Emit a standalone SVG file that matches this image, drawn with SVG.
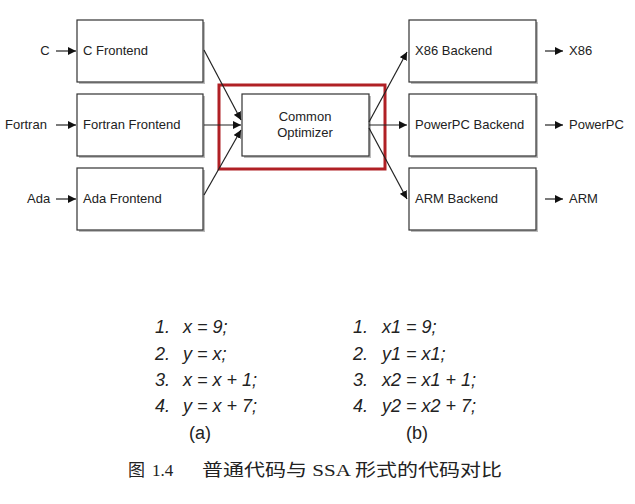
<svg xmlns="http://www.w3.org/2000/svg" width="635" height="504" viewBox="0 0 635 504">
<style>
.box{fill:#fff;stroke:#333;stroke-width:1.2}
.sh{fill:#bbb}
.t{font-family:"Liberation Sans",Arial,sans-serif;font-size:13px;fill:#222}
.c{font-family:"Liberation Sans",Arial,sans-serif;font-style:italic;font-size:18px;fill:#222}
.cap{font-family:"Liberation Serif","Noto Sans CJK SC",serif;font-size:17px;fill:#222}
.ln{stroke:#222;stroke-width:1.2;fill:none;marker-end:url(#a)}
</style>
<defs><marker id="a" viewBox="0 0 10 10" refX="10" refY="5" markerWidth="8" markerHeight="8" markerUnits="userSpaceOnUse" orient="auto"><path d="M0,0L10,5L0,10z" fill="#111"/></marker></defs>
<rect width="635" height="504" fill="#fff"/>
<g id="cfe"><rect class="sh" x="79" y="22" width="126" height="62"/><rect class="box" x="77" y="20" width="126" height="62"/><text class="t" x="83" y="55">C Frontend</text></g>
<g id="ffe"><rect class="sh" x="79" y="96" width="126" height="62"/><rect class="box" x="77" y="94" width="126" height="62"/><text class="t" x="83" y="129">Fortran Frontend</text></g>
<g id="afe"><rect class="sh" x="79" y="170" width="126" height="62"/><rect class="box" x="77" y="168" width="126" height="62"/><text class="t" x="83" y="203">Ada Frontend</text></g>
<g id="opt"><rect class="sh" x="244" y="96" width="127" height="62"/><rect class="box" x="242" y="94" width="127" height="62"/><text class="t" x="305" y="121" text-anchor="middle">Common</text><text class="t" x="305" y="137" text-anchor="middle">Optimizer</text></g>
<g id="hl"><rect x="219" y="85" width="166" height="84" fill="none" stroke="#b02025" stroke-width="3"/></g>
<g id="x86"><rect class="sh" x="411" y="22" width="127" height="62"/><rect class="box" x="409" y="20" width="127" height="62"/><text class="t" x="415" y="55">X86 Backend</text></g>
<g id="ppc"><rect class="sh" x="411" y="96" width="127" height="62"/><rect class="box" x="409" y="94" width="127" height="62"/><text class="t" x="415" y="129">PowerPC Backend</text></g>
<g id="arm"><rect class="sh" x="411" y="170" width="127" height="62"/><rect class="box" x="409" y="168" width="127" height="62"/><text class="t" x="415" y="203">ARM Backend</text></g>
<g id="labels" class="t">
<text x="45" y="55" text-anchor="middle">C</text>
<text x="5" y="129">Fortran</text>
<text x="27" y="203">Ada</text>
<text x="569" y="55">X86</text>
<text x="569" y="129">PowerPC</text>
<text x="569" y="203">ARM</text>
</g>
<g id="connectors">
<line class="ln" x1="56" y1="51" x2="76" y2="51"/>
<line class="ln" x1="56" y1="125" x2="76" y2="125"/>
<line class="ln" x1="56" y1="199" x2="76" y2="199"/>
<line class="ln" x1="545" y1="51" x2="563" y2="51"/>
<line class="ln" x1="545" y1="125" x2="563" y2="125"/>
<line class="ln" x1="545" y1="199" x2="563" y2="199"/>
<line class="ln" x1="204" y1="50" x2="241" y2="120"/>
<line class="ln" x1="204" y1="125" x2="241" y2="125"/>
<line class="ln" x1="204" y1="195" x2="241" y2="130"/>
<line class="ln" x1="369" y1="122" x2="407" y2="52"/>
<line class="ln" x1="369" y1="125" x2="407" y2="125"/>
<line class="ln" x1="369" y1="128" x2="407" y2="199"/>
</g>
<g id="code" class="c">
<text x="155" y="333">1.</text><text x="183" y="333">x = 9;</text>
<text x="155" y="360">2.</text><text x="183" y="360">y = x;</text>
<text x="155" y="386">3.</text><text x="183" y="386">x = x + 1;</text>
<text x="155" y="412">4.</text><text x="183" y="412">y = x + 7;</text>
<text x="200" y="439" text-anchor="middle" style="font-style:normal">(a)</text>
<text x="353" y="333">1.</text><text x="382" y="333">x1 = 9;</text>
<text x="353" y="360">2.</text><text x="382" y="360">y1 = x1;</text>
<text x="353" y="386">3.</text><text x="382" y="386">x2 = x1 + 1;</text>
<text x="353" y="412">4.</text><text x="382" y="412">y2 = x2 + 7;</text>
<text x="417" y="439" text-anchor="middle" style="font-style:normal">(b)</text>
</g>
<g id="caption" class="cap">
<text x="128" y="476">图</text><text x="152" y="476">1.4</text>
<text x="202" y="476" textLength="300" lengthAdjust="spacingAndGlyphs">普通代码与 SSA 形式的代码对比</text>
</g>
</svg>
